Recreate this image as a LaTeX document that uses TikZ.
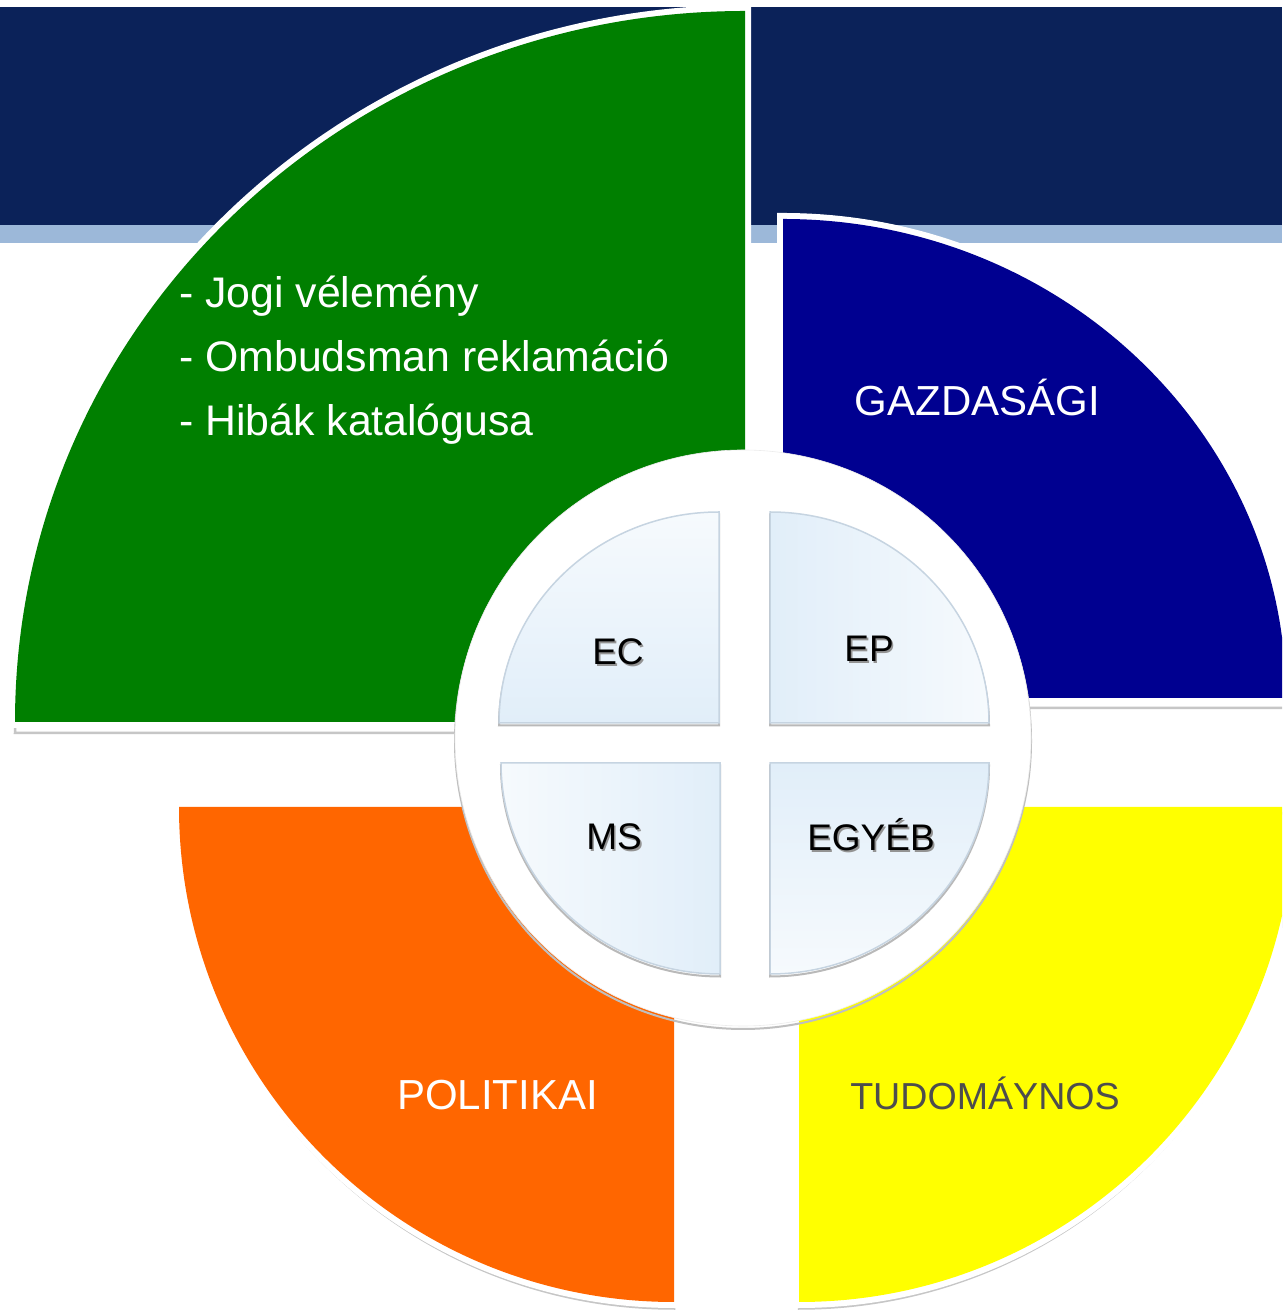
\documentclass[tikz,border=0pt]{standalone}
\usepackage{fontspec}
\setmainfont{Liberation Sans}
\definecolor{navy}{HTML}{0B2259}
\definecolor{lightstrip}{HTML}{9CB8D9}
\definecolor{sgreen}{HTML}{007F00}
\definecolor{sblue}{HTML}{000090}
\definecolor{sorange}{HTML}{FF6600}
\definecolor{syellow}{HTML}{FFFF00}
\definecolor{quadline}{HTML}{C6D4E1}
\definecolor{qdark}{HTML}{E1EEF9}
\definecolor{qlight}{HTML}{F6FAFD}
\definecolor{darktext}{HTML}{4D4D4D}
\begin{document}
\begin{tikzpicture}[x=1pt,y=1pt,
  whiteborder/.style={draw=white, line width=12pt, line join=miter},
  shad/.style={draw=gray!45, line width=2.5pt},
  big/.style={font=\fontsize{42}{50}\selectfont, text=white, inner sep=0pt},
  greentext/.style={font=\fontsize{42.8}{50}\selectfont, text=white, inner sep=0pt, anchor=base west},
  innerlabel/.style={font=\fontsize{37}{44}\selectfont, text=black, inner sep=0pt, anchor=base},
  innershadow/.style={font=\fontsize{37}{44}\selectfont, text=gray!85, inner sep=0pt, anchor=base},
  quad/.style={draw=quadline, line width=1.5pt},
  qshadow/.style={draw=gray!55, line width=2pt}]
\clip (0,0) rectangle (1282,1311);
\fill[white] (0,0) rectangle (1282,1311);
% top band
\fill[navy] (0,1086) rectangle (1282,1304);
\fill[lightstrip] (0,1068) rectangle (1282,1086);

% shadows of the sectors
\draw[shad, yshift=-11pt] (745,589) -- (745,1300) arc[start angle=90, end angle=180, x radius=730pt, y radius=711pt] -- cycle;
\draw[shad, yshift=-10pt] (783,613) -- (1286,613) arc[start angle=0, end angle=90, x radius=503pt, y radius=479pt] -- cycle;
\draw[shad, yshift=-6.5pt] (674,504) -- (179,504) arc[start angle=180, end angle=270, radius=495pt] -- cycle;
\draw[shad, yshift=-6.5pt] (799,504) -- (799,9) arc[start angle=270, end angle=360, radius=495pt] -- cycle;

% white borders
\draw[whiteborder] (745,589) -- (745,1300) arc[start angle=90, end angle=180, x radius=730pt, y radius=711pt] -- cycle;
\draw[whiteborder] (783,613) -- (1286,613) arc[start angle=0, end angle=90, x radius=503pt, y radius=479pt] -- cycle;
\draw[whiteborder] (674,504) -- (179,504) arc[start angle=180, end angle=270, radius=495pt] -- cycle;
\draw[whiteborder] (799,504) -- (799,9) arc[start angle=270, end angle=360, radius=495pt] -- cycle;

% sectors
\fill[sgreen] (745,589) -- (745,1300) arc[start angle=90, end angle=180, x radius=730pt, y radius=711pt] -- cycle;
\fill[sblue] (783,613) -- (1286,613) arc[start angle=0, end angle=90, x radius=503pt, y radius=479pt] -- cycle;
\fill[sorange] (674,504) -- (179,504) arc[start angle=180, end angle=270, radius=495pt] -- cycle;
\fill[syellow] (799,504) -- (799,9) arc[start angle=270, end angle=360, radius=495pt] -- cycle;

% central circle
\draw[gray!50, line width=2pt] (743,570) circle[radius=288pt];
\fill[white, draw=gray!15, line width=0.6pt] (743,573) circle[radius=288pt];

% inner quadrants: shadows
\draw[qshadow, yshift=-2.5pt] (719,588) -- (719,799) arc[start angle=90, end angle=180, x radius=220pt, y radius=211pt] -- cycle;
\draw[qshadow, yshift=-2.5pt] (770,588) -- (989,588) arc[start angle=0, end angle=90, x radius=219pt, y radius=211pt] -- cycle;
\draw[qshadow, yshift=-2.5pt] (720,548) -- (501,548) arc[start angle=180, end angle=270, x radius=219pt, y radius=211pt] -- cycle;
\draw[qshadow, yshift=-2.5pt] (770,548) -- (770,337) arc[start angle=270, end angle=360, x radius=219pt, y radius=211pt] -- cycle;

% inner quadrants
\shadedraw[quad, top color=qlight, bottom color=qdark] (719,588) -- (719,799) arc[start angle=90, end angle=180, x radius=220pt, y radius=211pt] -- cycle;
\shadedraw[quad, left color=qdark, right color=qlight] (770,588) -- (989,588) arc[start angle=0, end angle=90, x radius=219pt, y radius=211pt] -- cycle;
\shadedraw[quad, left color=qlight, right color=qdark] (720,548) -- (501,548) arc[start angle=180, end angle=270, x radius=219pt, y radius=211pt] -- cycle;
\shadedraw[quad, top color=qdark, bottom color=qlight] (770,548) -- (770,337) arc[start angle=270, end angle=360, x radius=219pt, y radius=211pt] -- cycle;

% green text
\node[greentext] (j1) at (179,1003) {- Jogi vélemény};
\node[greentext] (j2) at (179,939) {- Ombudsman reklamáció};
\node[greentext] (j3) at (179,875) {- Hibák katalógusa};

% sector labels
\node[big, anchor=base] (gaz) at (977.5,895) {GAZDASÁGI};
\node[big, anchor=base] (pol) at (497.5,201) {POLITIKAI};
\node[big, anchor=base, text=darktext, font=\fontsize{37.6}{46}\selectfont] (tud) at (985,201) {TUDOMÁYNOS};

% inner labels with shadows
\node[innershadow] (ecs) at (619.7,644) {EC};
\node[innerlabel] (ec) at (618,646) {EC};
\node[innershadow] (eps) at (870.7,647) {EP};
\node[innerlabel] (ep) at (869,649) {EP};
\node[innershadow] (mss) at (615.7,459) {MS};
\node[innerlabel] (ms) at (614,461) {MS};
\node[innershadow] (egs) at (872.7,458) {EGYÉB};
\node[innerlabel] (eg) at (871,460) {EGYÉB};
\end{tikzpicture}
\end{document}
